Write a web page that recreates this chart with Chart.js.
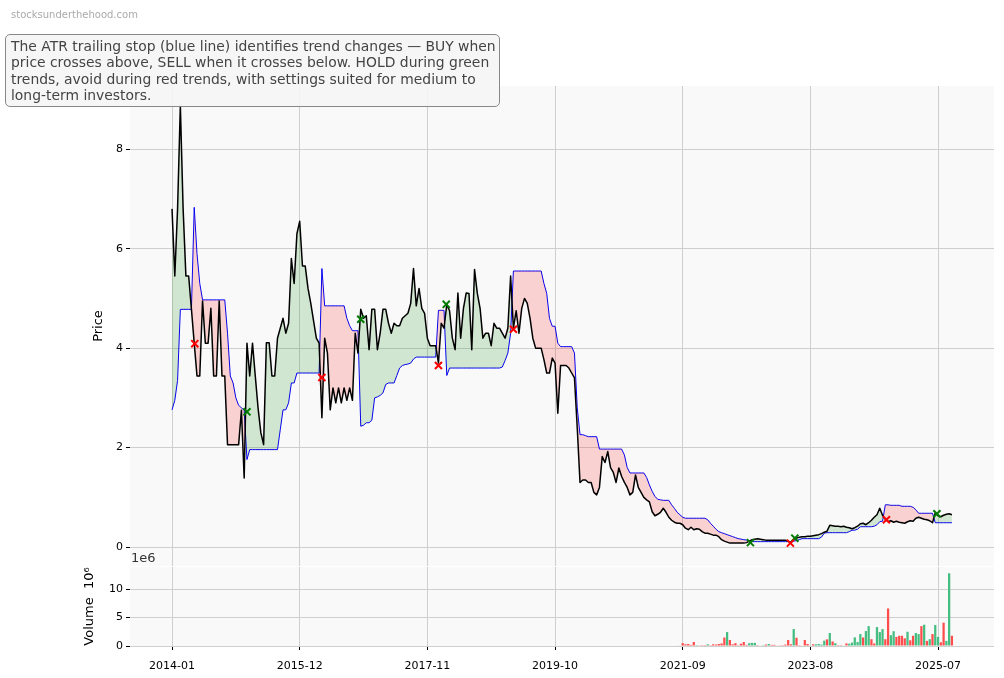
<!DOCTYPE html>
<html>
<head>
<meta charset="utf-8">
<script src="https://cdn.jsdelivr.net/npm/chart.js@4.4.1/dist/chart.umd.min.js"></script>
<style>
    body { margin: 0; background: #fff; font-family: 'DejaVu Sans', sans-serif; }
    #wrap { position: relative; width: 1004px; height: 678px; overflow: hidden; }
    canvas { position: absolute; left: 0; }
    .site { position: absolute; left: 11px; top: 9px; font-size: 10px; color: #aaa; }
    .note { position: absolute; left: 5px; top: 34px; width: 484px; padding: 3px 4px 3px 5px;
            border: 1px solid #888; border-radius: 5px; background: rgba(245,245,245,0.9);
            font-size: 13.9px; line-height: 16.3px; color: #444; white-space: nowrap; }
    .offset { position: absolute; left: 131px; top: 550px; font-size: 13px; color: #333; }
</style>
</head>
<body>
<div id="wrap">
    <canvas id="chart-price" width="1004" height="566" style="top:0"></canvas>
    <canvas id="chart-volume" width="1004" height="112" style="top:566px"></canvas>
    <div class="site">stocksunderthehood.com</div>
    <div class="note">The ATR trailing stop (blue line) identifies trend changes — BUY when<br>price crosses above, SELL when it crosses below. HOLD during green<br>trends, avoid during red trends, with settings suited for medium to<br>long-term investors.</div>
    <div class="offset">1e6</div>
</div>
<script>
// half-month samples, starting 2014-01
const STEP = 0.5;

const price = [
    6.8, 5.45, 6.8, 8.88, 6.8, 5.45, 5.45, 4.78, 4.1, 3.44, 3.44, 4.95,
    4.1, 4.1, 4.8, 3.44, 3.44, 4.95, 3.44, 3.44, 2.06, 2.06, 2.06, 2.06,
    2.06, 2.75, 1.39, 4.1, 3.44, 4.1, 3.44, 2.8, 2.3, 2.06, 4.11, 4.11,
    3.44, 3.44, 4.2, 4.4, 4.6, 4.3, 4.5, 5.8, 5.3, 6.3, 6.55, 5.65,
    5.65, 5.2, 4.9, 4.55, 4.2, 4.1, 2.6, 4.2, 3.9, 2.76, 3.2, 2.9,
    3.2, 2.9, 3.2, 2.95, 3.2, 2.95, 4.3, 3.9, 4.78, 4.6, 4.65, 3.97,
    4.78, 4.78, 3.97, 4.3, 4.78, 4.78, 4.5, 4.3, 4.5, 4.45, 4.45, 4.6,
    4.65, 4.7, 4.9, 5.6, 4.85, 5.2, 4.8, 4.7, 4.2, 4.05, 4.05, 4.05,
    3.7, 4.5, 4.4, 4.88, 4.75, 4.2, 3.97, 5.11, 4.2, 4.8, 5.11, 5.1,
    3.97, 5.58, 5.1, 4.8, 4.2, 4.3, 4.3, 4.05, 4.5, 4.4, 4.4, 4.3,
    4.2, 4.4, 5.45, 4.4, 4.75, 4.3, 4.8, 5.0, 4.9, 4.6, 4.2, 4.0,
    4.0, 4.0, 3.77, 3.5, 3.5, 3.8, 3.7, 2.69, 3.65, 3.65, 3.65, 3.6,
    3.5, 3.4, 2.4, 1.3, 1.35, 1.35, 1.3, 1.3, 1.1, 1.05, 1.2, 1.82,
    1.7, 1.92, 1.6, 1.5, 1.3, 1.59, 1.42, 1.3, 1.2, 1.05, 1.1, 1.45,
    1.2, 1.1, 1.0, 0.95, 0.91, 0.71, 0.63, 0.66, 0.7, 0.78, 0.7, 0.6,
    0.54, 0.5, 0.48, 0.48, 0.45, 0.38, 0.35, 0.4, 0.35, 0.37, 0.36, 0.31,
    0.28, 0.28, 0.26, 0.24, 0.24, 0.21, 0.15, 0.12, 0.1, 0.08, 0.08, 0.08,
    0.08, 0.08, 0.08, 0.09, 0.12, 0.15, 0.16, 0.17, 0.16, 0.15, 0.14, 0.14,
    0.14, 0.14, 0.14, 0.14, 0.14, 0.14, 0.12, 0.08, 0.16, 0.18, 0.2, 0.21,
    0.21, 0.22, 0.22, 0.23, 0.24, 0.25, 0.27, 0.3, 0.32, 0.44, 0.43, 0.42,
    0.42, 0.41, 0.42, 0.4, 0.39, 0.37, 0.39, 0.42, 0.47, 0.48, 0.45, 0.49,
    0.54, 0.6, 0.65, 0.78, 0.64, 0.56, 0.51, 0.53, 0.5, 0.52, 0.5, 0.49,
    0.48, 0.51, 0.53, 0.52, 0.58, 0.6, 0.58, 0.56, 0.55, 0.53, 0.49, 0.69,
    0.63, 0.61, 0.64, 0.66, 0.67, 0.65
];

const atrStop = [
    2.76, 2.95, 3.35, 4.78, 4.78, 4.78, 4.78, 4.78, 6.83, 5.9, 5.3, 4.97,
    4.97, 4.97, 4.97, 4.97, 4.97, 4.97, 4.97, 4.97, 4.3, 3.44, 3.3, 3.0,
    2.85, 2.8, 2.75, 1.76, 1.96, 1.96, 1.96, 1.96, 1.96, 1.96, 1.96, 1.96,
    1.96, 1.96, 1.96, 2.36, 2.76, 2.76, 2.9, 3.3, 3.3, 3.5, 3.5, 3.5,
    3.5, 3.5, 3.5, 3.5, 3.5, 3.5, 5.6, 4.85, 4.85, 4.85, 4.85, 4.85,
    4.85, 4.85, 4.85, 4.6, 4.45, 4.35, 4.35, 4.35, 2.43, 2.45, 2.5, 2.5,
    2.55, 3.0, 3.02, 3.05, 3.1, 3.27, 3.3, 3.3, 3.3, 3.45, 3.6, 3.65,
    3.67, 3.68, 3.7, 3.78, 3.82, 3.82, 3.82, 3.82, 3.82, 3.82, 3.82, 3.82,
    4.76, 4.76, 4.76, 3.45, 3.6, 3.6, 3.6, 3.6, 3.6, 3.6, 3.6, 3.6,
    3.6, 3.6, 3.6, 3.6, 3.6, 3.6, 3.6, 3.6, 3.6, 3.6, 3.6, 3.62,
    3.75, 3.9, 4.3, 5.55, 5.55, 5.55, 5.55, 5.55, 5.55, 5.55, 5.55, 5.55,
    5.55, 5.55, 5.3, 5.1, 4.6, 4.44, 4.44, 4.1, 4.03, 4.03, 4.03, 4.03,
    4.03, 3.9, 2.8, 2.26, 2.26, 2.24, 2.22, 2.22, 2.22, 2.22, 1.97, 1.97,
    1.97, 1.97, 1.97, 1.97, 1.97, 1.97, 1.97, 1.85, 1.6, 1.49, 1.49, 1.49,
    1.49, 1.49, 1.49, 1.4, 1.25, 1.12, 1.02, 0.96, 0.95, 0.94, 0.94, 0.94,
    0.85, 0.78, 0.7, 0.65, 0.6, 0.58, 0.58, 0.58, 0.58, 0.58, 0.58, 0.58,
    0.58, 0.55, 0.48, 0.42, 0.36, 0.31, 0.29, 0.27, 0.25, 0.23, 0.21, 0.19,
    0.17, 0.16, 0.15, 0.14, 0.11, 0.11, 0.11, 0.11, 0.11, 0.11, 0.11, 0.11,
    0.11, 0.11, 0.11, 0.11, 0.11, 0.11, 0.11, 0.11, 0.12, 0.13, 0.15, 0.17,
    0.17, 0.17, 0.17, 0.17, 0.17, 0.17, 0.2, 0.28, 0.29, 0.29, 0.29, 0.29,
    0.29, 0.29, 0.29, 0.29, 0.31, 0.34, 0.34, 0.36, 0.41, 0.41, 0.41, 0.41,
    0.41, 0.42, 0.45, 0.51, 0.52, 0.85, 0.85, 0.84, 0.84, 0.84, 0.84, 0.82,
    0.82, 0.82, 0.82, 0.8, 0.75, 0.68, 0.68, 0.68, 0.68, 0.68, 0.68, 0.49,
    0.49, 0.49, 0.49, 0.49, 0.49, 0.49
];

// signals: months since 2014-01 and price at the cross
const buyMonths = [13.5, 34, 49.4, 104.2, 112.2, 137.8];
const buyPrices = [2.72, 4.58, 4.88, 0.09, 0.18, 0.67];
const sellMonths = [4.1, 27, 48, 61.5, 111.4, 128.7];
const sellPrices = [4.09, 3.41, 3.65, 4.38, 0.08, 0.55];

// volume (millions), half-month samples starting 2021-08
const volumeStart = 91;
const volume = [
    0.1, 0.1, 0.5, 0.3, 0.35, 0.2, 0.7, 0.15, 0.05, 0.15, 0.15, 0.3,
    0.15, 0.3, 0.25, 0.35, 0.45, 1.5, 2.45, 1.05, 0.3, 0.5, 0.15, 0.4,
    0.7, 0.2, 0.5, 0.55, 0.55, 0.15, 0.1, 0.15, 0.25, 0.35, 0.2, 0.2,
    0.1, 0.05, 0.15, 0.25, 1.05, 0.3, 2.98, 1.45, 0.15, 0.1, 1.05, 0.35,
    0.1, 0.3, 0.3, 0.35, 0.25, 0.94, 1.17, 2.28, 0.8, 0.5, 0.15, 0.15,
    0.1, 0.45, 0.4, 0.6, 1.52, 0.7, 2.1, 1.5, 2.63, 3.5, 1.2, 0.45,
    3.33, 2.45, 2.98, 1.2, 6.6, 1.9, 2.6, 1.6, 1.8, 1.8, 1.35, 2.5,
    1.0, 1.8, 2.28, 2.1, 3.5, 3.75, 0.9, 1.2, 2.1, 3.69, 1.6, 0.65,
    4.1, 0.9, 12.8, 1.8
];
const volumeDir = [
    'd','d','d','d','d','d','d','u','d','d','d','u',
    'd','d','d','d','d','d','u','d','d','d','d','d',
    'd','d','u','u','u','d','u','u','d','u','d','d',
    'd','d','d','d','d','d','u','d','d','d','d','d',
    'd','d','u','u','u','u','d','u','d','u','d','d',
    'd','d','u','u','u','u','u','d','u','u','d','d',
    'u','u','u','d','d','u','u','d','d','d','d','u',
    'd','d','u','u','d','u','d','u','d','u','u','d',
    'd','u','u','d'
];

const tickMonths = [0, 23, 46, 69, 92, 115, 138];
const tickLabels = ['2014-01', '2015-12', '2017-11', '2019-10', '2021-09', '2023-08', '2025-07'];

const X_MIN = -7.57;
const X_MAX = 148.08;
const FONT = "'DejaVu Sans', sans-serif";
const GRID = '#cfcfcf';

const plotBackground = {
    id: 'plotBackground',
    beforeDraw(chart) {
        const a = chart.chartArea;
        const ctx = chart.ctx;
        ctx.save();
        ctx.fillStyle = '#f9f9f9';
        ctx.fillRect(a.left, a.top, a.right - a.left, a.bottom - a.top);
        ctx.restore();
    }
};

function setTicks(values) {
    return function (scale) {
        scale.ticks = values.map(v => ({ value: v }));
    };
}

function noOverhang(scale) {
    scale.paddingTop = 0;
    scale.paddingBottom = 0;
    scale.paddingLeft = 0;
    scale.paddingRight = 0;
}

function toPoints(values, start) {
    return values.map((v, i) => ({ x: start + i * STEP, y: v }));
}

function xAxis(showLabels) {
    return {
        type: 'linear',
        min: X_MIN,
        max: X_MAX,
        offset: false,
        afterBuildTicks: setTicks(tickMonths),
        afterFit: function (scale) {
            scale.height = showLabels ? 32 : 0;
            noOverhang(scale);
        },
        border: { display: false },
        grid: { offset: false, color: GRID, lineWidth: 1, drawTicks: showLabels, tickLength: 4, tickColor: '#000' },
        ticks: {
            display: showLabels,
            maxRotation: 0,
            padding: 10,
            color: '#000',
            font: { family: FONT, size: 11 },
            callback: function (value, index) { return tickLabels[index]; }
        }
    };
}

function yAxis(min, max, ticks, title, titlePad) {
    return {
        min: min,
        max: max,
        afterBuildTicks: setTicks(ticks),
        afterFit: function (scale) {
            scale.width = 130;
            noOverhang(scale);
        },
        border: { display: false },
        grid: { color: GRID, lineWidth: 1, tickLength: 4, tickColor: '#000' },
        ticks: { color: '#000', padding: 3, font: { family: FONT, size: 11 } },
        title: {
            display: true,
            text: title,
            color: '#000',
            font: { family: FONT, size: 13 },
            padding: { top: titlePad, bottom: 0 }
        }
    };
}

function CreatePriceChart() {
    const ctx = document.getElementById('chart-price').getContext('2d');
    const data = {
        datasets: [{
            label: 'Price',
            data: toPoints(price, 0),
            borderColor: '#000',
            borderWidth: 1.5,
            borderJoinStyle: 'round',
            pointRadius: 0,
            fill: { target: 1, above: 'rgba(0, 128, 0, 0.16)', below: 'rgba(255, 0, 0, 0.16)' },
            order: 1
        },
        {
            label: 'ATR Trailing Stop',
            data: toPoints(atrStop, 0),
            borderColor: '#0000ff',
            borderWidth: 1,
            pointRadius: 0,
            fill: false,
            order: 2
        },
        {
            type: 'scatter',
            label: 'Sell',
            data: sellMonths.map((m, i) => ({ x: m, y: sellPrices[i] })),
            pointStyle: 'crossRot',
            pointRadius: 5,
            borderColor: '#ff0000',
            borderWidth: 2,
            order: 0
        },
        {
            type: 'scatter',
            label: 'Buy',
            data: buyMonths.map((m, i) => ({ x: m, y: buyPrices[i] })),
            pointStyle: 'crossRot',
            pointRadius: 5,
            borderColor: '#007a00',
            borderWidth: 2,
            order: 0
        }]
    };

    window.priceChart = new Chart(ctx, {
        type: 'line',
        data: data,
        options: {
            responsive: false,
            animation: false,
            devicePixelRatio: 1,
            layout: { autoPadding: false, padding: { top: 86, right: 10, left: 0, bottom: 0 } },
            plugins: { legend: { display: false }, tooltip: { enabled: false } },
            scales: {
                x: xAxis(false),
                y: yAxis(-0.38, 9.27, [0, 2, 4, 6, 8], 'Price', 91)
            }
        },
        plugins: [plotBackground]
    });
}

function CreateVolumeChart() {
    const ctx = document.getElementById('chart-volume').getContext('2d');
    window.volumeChart = new Chart(ctx, {
        type: 'bar',
        data: {
            datasets: [{
                label: 'Volume',
                data: toPoints(volume, volumeStart),
                backgroundColor: volumeDir.map(d => d === 'u' ? '#44bd80' : '#ff4d4d'),
                borderWidth: 0,
                barPercentage: 0.9,
                categoryPercentage: 0.9
            }]
        },
        options: {
            responsive: false,
            animation: false,
            devicePixelRatio: 1,
            layout: { autoPadding: false, padding: { top: 1, right: 10, left: 0, bottom: 0 } },
            plugins: { legend: { display: false }, tooltip: { enabled: false } },
            scales: {
                x: xAxis(true),
                y: yAxis(0, 13.9, [0, 5, 10], 'Volume  10⁶', 82)
            }
        },
        plugins: [plotBackground]
    });
}

CreatePriceChart();
CreateVolumeChart();
</script>
</body>
</html>
